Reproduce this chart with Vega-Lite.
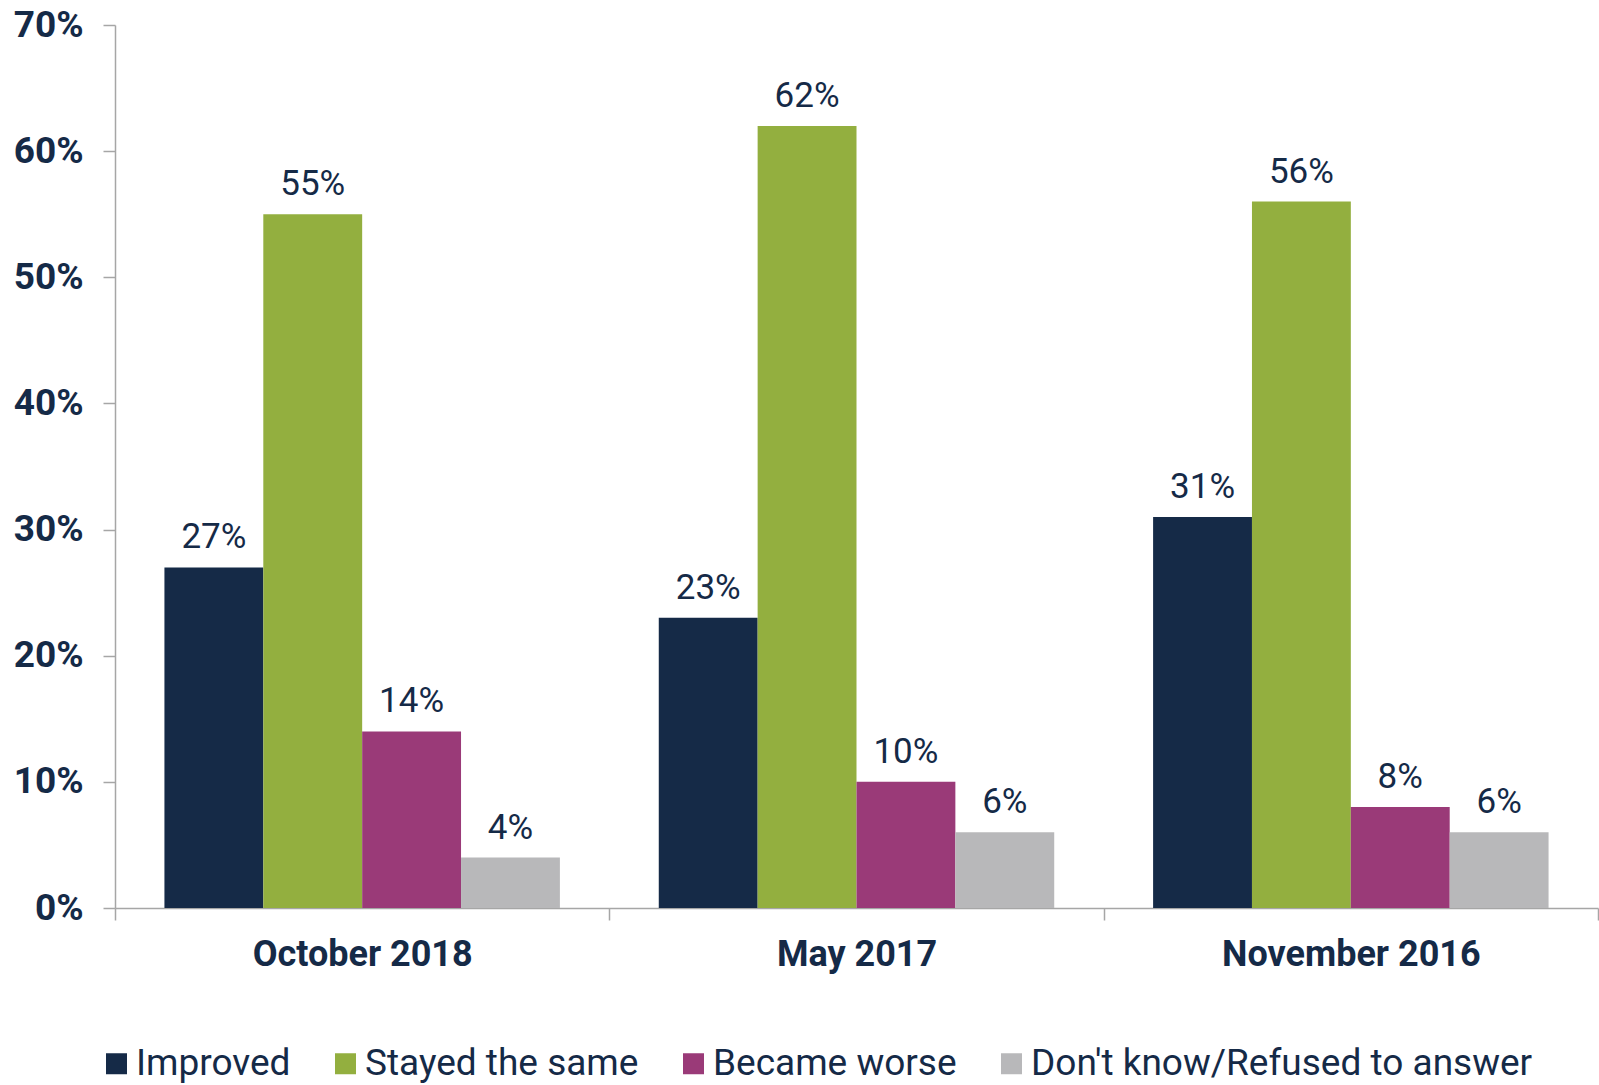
{
  "$schema": "https://vega.github.io/schema/vega-lite/v6.json",
  "width": 1483,
  "height": 883,
  "autosize": {"type": "none"},
  "padding": {"left": 115, "top": 25, "right": 1, "bottom": 177},
  "background": "white",
  "config": {"view": {"stroke": null}, "font": "Roboto"},
  "data": {
    "values": [
      {"period": "October 2018", "response": "Improved", "value": 0.27},
      {"period": "October 2018", "response": "Stayed the same", "value": 0.55},
      {"period": "October 2018", "response": "Became worse", "value": 0.14},
      {"period": "October 2018", "response": "Don't know/Refused to answer", "value": 0.04},
      {"period": "May 2017", "response": "Improved", "value": 0.23},
      {"period": "May 2017", "response": "Stayed the same", "value": 0.62},
      {"period": "May 2017", "response": "Became worse", "value": 0.10},
      {"period": "May 2017", "response": "Don't know/Refused to answer", "value": 0.06},
      {"period": "November 2016", "response": "Improved", "value": 0.31},
      {"period": "November 2016", "response": "Stayed the same", "value": 0.56},
      {"period": "November 2016", "response": "Became worse", "value": 0.08},
      {"period": "November 2016", "response": "Don't know/Refused to answer", "value": 0.06}
    ]
  },
  "encoding": {
    "x": {
      "field": "period",
      "type": "nominal",
      "sort": ["October 2018", "May 2017", "November 2016"],
      "scale": {"paddingInner": 0, "paddingOuter": 0},
      "axis": {
        "title": null,
        "labelAngle": 0,
        "labelLimit": 0,
        "tickBand": "extent",
        "tickSize": 12,
        "tickColor": "#A6A6A6",
        "tickWidth": 1.5,
        "domainColor": "#A6A6A6",
        "domainWidth": 1.5,
        "labelFont": "Roboto",
        "labelFontSize": 36,
        "labelFontWeight": "bold",
        "labelColor": "#152A47",
        "labelPadding": 17
      }
    },
    "xOffset": {
      "field": "response",
      "type": "nominal",
      "sort": ["Improved", "Stayed the same", "Became worse", "Don't know/Refused to answer"],
      "scale": {"paddingInner": 0, "paddingOuter": 0.5}
    },
    "y": {
      "field": "value",
      "type": "quantitative",
      "scale": {"domain": [0, 0.7]},
      "axis": {
        "title": null,
        "format": ".0%",
        "values": [0, 0.1, 0.2, 0.3, 0.4, 0.5, 0.6, 0.7],
        "grid": false,
        "domainColor": "#A6A6A6",
        "domainWidth": 1.5,
        "tickColor": "#A6A6A6",
        "tickWidth": 1.5,
        "tickSize": 12,
        "labelFont": "Roboto",
        "labelFontWeight": "bold",
        "labelFontSize": 37,
        "labelColor": "#152A47",
        "labelPadding": 20
      }
    }
  },
  "layer": [
    {
      "mark": {"type": "bar"},
      "encoding": {
        "color": {
          "field": "response",
          "type": "nominal",
          "sort": ["Improved", "Stayed the same", "Became worse", "Don't know/Refused to answer"],
          "scale": {"range": ["#152A47", "#93AF3F", "#9A3A78", "#B8B8BA"]},
          "legend": {
            "title": null,
            "orient": "none",
            "legendX": -17,
            "legendY": 1020,
            "direction": "horizontal",
            "symbolType": "square",
            "symbolSize": 441,
            "symbolStrokeWidth": 0,
            "labelFont": "Roboto",
            "labelFontSize": 37,
            "labelColor": "#152A47",
            "labelOffset": 1,
            "columnPadding": 36,
            "padding": 0,
            "labelLimit": 0
          }
        }
      }
    },
    {
      "mark": {"type": "text", "baseline": "alphabetic", "dy": -19, "fontSize": 35, "font": "Roboto", "color": "#152A47"},
      "encoding": {
        "text": {"field": "value", "type": "quantitative", "format": ".0%"}
      }
    }
  ]
}
